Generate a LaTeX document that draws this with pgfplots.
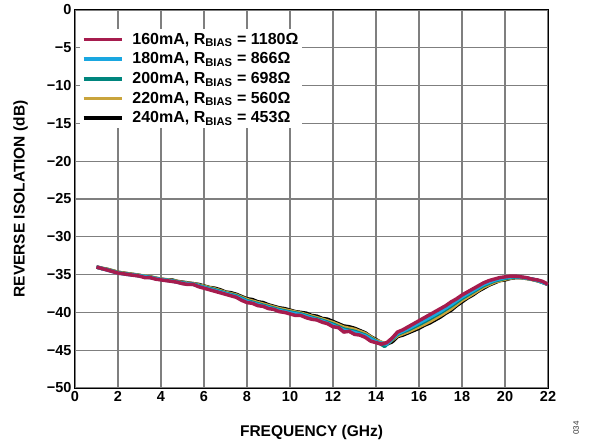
\documentclass[border=0pt]{standalone}
\usepackage{fontspec}
\setmainfont{Liberation Sans}
\usepackage{pgfplots}
\pgfplotsset{compat=1.18}
\definecolor{cRed}{HTML}{A61C4E}
\definecolor{cBlue}{HTML}{1AA7E0}
\definecolor{cTeal}{HTML}{00857D}
\definecolor{cGold}{HTML}{C9A43C}
\definecolor{cGrid}{HTML}{7F7F7F}
\pgfplotsset{
  /pgfplots/legend image code/.code={\draw[#1, line width=3.5pt] (0pt,0pt) -- (38pt,0pt);}
}
\begin{document}
\begin{tikzpicture}
\path[use as bounding box] (-75pt,-56pt) rectangle (518pt,388pt);
\begin{axis}[
  scale only axis, width=473pt, height=378pt,
  xmin=0, xmax=22, ymin=-50, ymax=0,
  xtick={0,2,...,22},
  ytick={-50,-45,-40,-35,-30,-25,-20,-15,-10,-5,0},
  yticklabels={−50,−45,−40,−35,−30,−25,−20,−15,−10,−5,0},
  /pgf/number format/assume math mode=true,
  tick label style={font=\fontsize{14.5}{16}\selectfont\bfseries},
  label style={font=\fontsize{15.5}{17}\selectfont\bfseries},
  xlabel={FREQUENCY (GHz)},
  ylabel={REVERSE ISOLATION (dB)},
  xlabel style={at={(axis description cs:0.5,-0.118)}, anchor=center},
  ylabel style={at={(axis description cs:-0.115,0.5)}, anchor=center},
  grid=major, grid style={cGrid, line width=1.1pt},
  axis line style={black, line width=1pt},
  tick align=inside, major tick length=0pt,
  every axis plot/.append style={line width=3.5pt, line join=round},
  reverse legend,
  legend cell align=left,
  legend style={at={(rel axis cs:0.01,0.95)}, anchor=north west, draw=none, fill=white,
    font=\fontsize{16}{18}\selectfont\bfseries, inner sep=2pt, row sep=3pt, column sep=7pt},
]
\addplot[black] coordinates {
(1.00,-34.0)(1.25,-34.2)(1.50,-34.3)(1.75,-34.5)(2.00,-34.7)(2.25,-34.8)(2.50,-34.9)(2.75,-35.0)
(3.00,-35.1)(3.25,-35.3)(3.50,-35.3)(3.75,-35.5)(4.00,-35.6)(4.25,-35.7)(4.50,-35.7)(4.75,-35.9)
(5.00,-36.0)(5.25,-36.1)(5.50,-36.2)(5.75,-36.3)(6.00,-36.5)(6.25,-36.7)(6.50,-36.8)(6.75,-37.0)
(7.00,-37.3)(7.25,-37.4)(7.50,-37.6)(7.75,-37.9)(8.00,-38.2)(8.25,-38.3)(8.50,-38.6)(8.75,-38.7)
(9.00,-39.0)(9.25,-39.2)(9.50,-39.4)(9.75,-39.5)(10.00,-39.7)(10.25,-39.9)(10.50,-40.0)(10.75,-40.1)
(11.00,-40.4)(11.25,-40.5)(11.50,-40.8)(11.75,-40.9)(12.00,-41.2)(12.25,-41.5)(12.50,-41.8)(12.75,-41.9)
(13.00,-42.1)(13.25,-42.4)(13.50,-42.7)(13.75,-43.2)(14.00,-43.6)(14.25,-44.0)(14.50,-44.2)(14.75,-43.9)
(15.00,-43.2)(15.25,-43.0)(15.50,-42.7)(15.75,-42.4)(16.00,-42.1)(16.25,-41.7)(16.50,-41.4)(16.75,-41.0)
(17.00,-40.6)(17.25,-40.1)(17.50,-39.7)(17.75,-39.1)(18.00,-38.6)(18.25,-38.1)(18.50,-37.7)(18.75,-37.2)
(19.00,-36.8)(19.25,-36.4)(19.50,-36.1)(19.75,-35.8)(20.00,-35.7)(20.25,-35.5)(20.50,-35.4)(20.75,-35.4)
(21.00,-35.5)(21.25,-35.6)(21.50,-35.8)(21.75,-36.0)(22.00,-36.3)};
\addlegendentry{240mA, R\textsubscript{BIAS} = 453Ω}
\addplot[cGold] coordinates {
(1.0,-34.0)(1.5,-34.3)(2.0,-34.7)(2.5,-34.9)(3.0,-35.1)(3.5,-35.3)(4.0,-35.6)(4.5,-35.75)
(5.0,-36.05)(5.5,-36.2)(6.0,-36.55)(6.5,-36.9)(7.0,-37.35)(7.5,-37.7)(8.0,-38.3)(8.5,-38.7)
(9.0,-39.1)(9.5,-39.5)(10.0,-39.8)(10.5,-40.1)(11.0,-40.5)(11.5,-40.9)(12.0,-41.35)(12.5,-41.95)
(13.0,-42.25)(13.5,-42.8)(14.0,-43.7)(14.5,-44.2)(15.0,-43.1)(15.5,-42.55)(16.0,-41.9)(16.5,-41.2)
(17.0,-40.4)(17.5,-39.5)(18.0,-38.4)(18.5,-37.55)(19.0,-36.65)(19.5,-36.0)(20.0,-35.6)(20.5,-35.35)
(21.0,-35.5)(21.5,-35.8)(22.0,-36.3)};
\addlegendentry{220mA, R\textsubscript{BIAS} = 560Ω}
\addplot[cTeal] coordinates {
(1.0,-34.0)(1.5,-34.35)(2.0,-34.75)(2.5,-34.95)(3.0,-35.15)(3.5,-35.35)(4.0,-35.65)(4.5,-35.8)
(5.0,-36.1)(5.5,-36.25)(6.0,-36.65)(6.5,-37.0)(7.0,-37.45)(7.5,-37.8)(8.0,-38.45)(8.5,-38.85)
(9.0,-39.25)(9.5,-39.65)(10.0,-39.95)(10.5,-40.2)(11.0,-40.65)(11.5,-41.05)(12.0,-41.55)(12.5,-42.2)
(13.0,-42.5)(13.5,-43.0)(14.0,-43.8)(14.4,-44.5)(15.0,-42.9)(15.5,-42.3)(16.0,-41.6)(16.5,-40.85)
(17.0,-40.05)(17.5,-39.15)(18.0,-38.15)(18.5,-37.3)(19.0,-36.45)(19.5,-35.85)(20.0,-35.5)(20.5,-35.3)
(21.0,-35.45)(21.5,-35.75)(22.0,-36.3)};
\addlegendentry{200mA, R\textsubscript{BIAS} = 698Ω}
\addplot[cBlue] coordinates {
(1.0,-34.0)(1.5,-34.4)(2.0,-34.8)(2.5,-35.0)(3.0,-35.15)(3.5,-35.4)(4.0,-35.65)(4.5,-35.85)
(5.0,-36.15)(5.5,-36.3)(6.0,-36.7)(6.5,-37.1)(7.0,-37.5)(7.5,-37.9)(8.0,-38.55)(8.5,-38.95)
(9.0,-39.35)(9.5,-39.75)(10.0,-40.05)(10.5,-40.3)(11.0,-40.75)(11.5,-41.15)(12.0,-41.7)(12.5,-42.35)
(13.0,-42.65)(13.5,-43.1)(14.0,-43.9)(14.5,-44.2)(15.0,-42.8)(15.5,-42.15)(16.0,-41.4)(16.5,-40.65)
(17.0,-39.85)(17.5,-38.95)(18.0,-37.95)(18.5,-37.15)(19.0,-36.3)(19.5,-35.75)(20.0,-35.4)(20.5,-35.25)
(21.0,-35.45)(21.5,-35.75)(22.0,-36.3)};
\addlegendentry{180mA, R\textsubscript{BIAS} = 866Ω}
\addplot[cRed] coordinates {
(1.00,-34.0)(1.25,-34.2)(1.50,-34.4)(1.75,-34.6)(2.00,-34.8)(2.25,-34.9)(2.50,-35.0)(2.75,-35.1)
(3.00,-35.2)(3.25,-35.4)(3.50,-35.4)(3.75,-35.6)(4.00,-35.7)(4.25,-35.8)(4.50,-35.9)(4.75,-36.0)
(5.00,-36.2)(5.25,-36.3)(5.50,-36.3)(5.75,-36.6)(6.00,-36.8)(6.25,-37.0)(6.50,-37.2)(6.75,-37.4)
(7.00,-37.6)(7.25,-37.8)(7.50,-38.0)(7.75,-38.4)(8.00,-38.7)(8.25,-38.8)(8.50,-39.1)(8.75,-39.2)
(9.00,-39.5)(9.25,-39.6)(9.50,-39.9)(9.75,-40.0)(10.00,-40.2)(10.25,-40.4)(10.50,-40.4)(10.75,-40.7)
(11.00,-40.9)(11.25,-41.0)(11.50,-41.3)(11.75,-41.5)(12.00,-41.9)(12.25,-42.0)(12.50,-42.6)(12.75,-42.5)
(13.00,-42.9)(13.25,-43.0)(13.50,-43.3)(13.75,-43.8)(14.00,-44.0)(14.25,-44.2)(14.50,-44.0)(14.75,-43.4)
(15.00,-42.6)(15.25,-42.3)(15.50,-41.9)(15.75,-41.5)(16.00,-41.1)(16.25,-40.7)(16.50,-40.3)(16.75,-39.9)
(17.00,-39.5)(17.25,-39.1)(17.50,-38.6)(17.75,-38.2)(18.00,-37.7)(18.25,-37.3)(18.50,-36.9)(18.75,-36.5)
(19.00,-36.1)(19.25,-35.8)(19.50,-35.6)(19.75,-35.4)(20.00,-35.3)(20.25,-35.2)(20.50,-35.2)(20.75,-35.3)
(21.00,-35.4)(21.25,-35.6)(21.50,-35.7)(21.75,-35.9)(22.00,-36.3)};
\addlegendentry{160mA, R\textsubscript{BIAS} = 1180Ω}
\end{axis}
\node[rotate=90, font=\fontsize{8}{9}\selectfont, text=black!80] at (501pt,-40pt) {034};
\end{tikzpicture}
\end{document}
